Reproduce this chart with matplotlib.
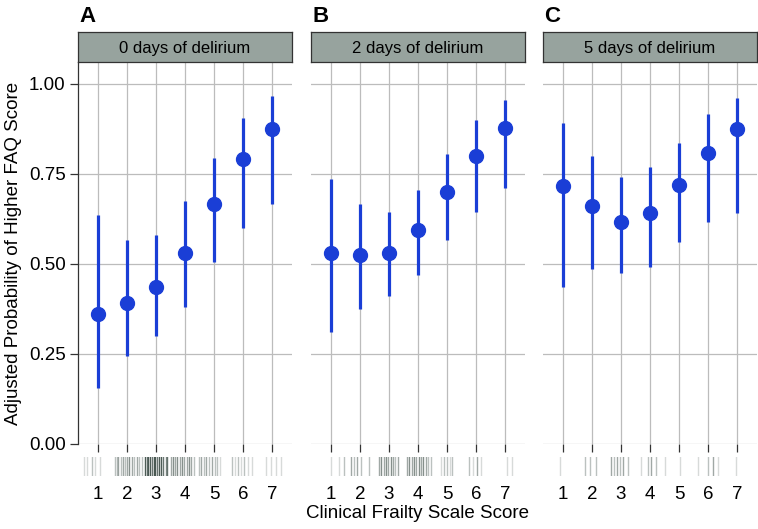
import matplotlib
matplotlib.use("Agg")
import matplotlib.pyplot as plt

plt.rcParams["font.family"] = ["Liberation Sans", "DejaVu Sans"]

scores = [1, 2, 3, 4, 5, 6, 7]
panel_letters = ["A", "B", "C"]
panel_titles = ["0 days of delirium", "2 days of delirium", "5 days of delirium"]

# point estimates and 95% intervals
est_a = [0.36, 0.39, 0.435, 0.53, 0.665, 0.79, 0.875]
lo_a = [0.155, 0.245, 0.30, 0.38, 0.505, 0.60, 0.665]
hi_a = [0.635, 0.565, 0.58, 0.675, 0.795, 0.905, 0.965]

est_b = [0.53, 0.525, 0.53, 0.595, 0.70, 0.80, 0.878]
lo_b = [0.31, 0.375, 0.41, 0.47, 0.565, 0.645, 0.71]
hi_b = [0.735, 0.665, 0.645, 0.705, 0.805, 0.90, 0.955]

est_c = [0.715, 0.66, 0.615, 0.64, 0.72, 0.808, 0.875]
lo_c = [0.435, 0.485, 0.475, 0.49, 0.56, 0.615, 0.64]
hi_c = [0.89, 0.80, 0.74, 0.77, 0.835, 0.915, 0.96]

# rug positions (jittered frailty scores) and how many observations overlap
rug_a_x = [0.52, 0.62, 0.79, 0.90, 1.07,
           1.58, 1.64, 1.70, 1.78, 1.85, 1.93, 2.00, 2.08, 2.16, 2.25, 2.33, 2.42, 2.52,
           2.62, 2.68, 2.74, 2.80, 2.86, 2.92, 2.98, 3.05, 3.12, 3.18, 3.25, 3.33, 3.38,
           3.52, 3.60, 3.67, 3.74, 3.82, 3.90, 3.98, 4.06, 4.14, 4.22, 4.32,
           4.48, 4.56, 4.64, 4.72, 4.82, 4.92, 5.02, 5.12, 5.22,
           5.62, 5.72, 5.82, 5.92, 6.05, 6.18, 6.30,
           6.80, 6.95, 7.15, 7.30]
rug_a_n = [1, 1, 2, 1, 1,
           2, 2, 3, 2, 3, 2, 3, 4, 3, 2, 3, 2, 2,
           6, 5, 7, 6, 5, 7, 6, 5, 6, 7, 5, 4, 5,
           3, 4, 3, 4, 3, 4, 3, 3, 4, 3, 2,
           2, 3, 2, 3, 2, 3, 2, 2, 1,
           2, 1, 2, 1, 2, 1, 1,
           1, 1, 1, 1]

rug_b_x = [1.00, 1.28, 1.45, 1.69, 1.79, 1.90, 2.03, 2.31,
           2.66, 2.74, 2.82, 2.90, 2.98, 3.06, 3.14, 3.22, 3.32,
           3.62, 3.70, 3.78, 3.86, 3.94, 4.02, 4.10, 4.18, 4.28, 4.36, 4.45,
           4.79, 4.90, 5.00, 5.10, 5.17,
           5.76, 5.90, 6.05, 6.17,
           7.07, 7.24]
rug_b_n = [1, 1, 2, 3, 2, 3, 2, 2,
           3, 4, 3, 4, 3, 4, 3, 2, 3,
           3, 4, 3, 4, 3, 4, 3, 4, 3, 2, 2,
           1, 2, 2, 1, 2,
           2, 1, 3, 1,
           1, 1]

rug_c_x = [0.90, 1.76, 1.93, 2.14,
           2.66, 2.76, 2.86, 2.96, 3.08, 3.24,
           3.69, 3.93, 4.03, 4.21, 4.52,
           5.03, 5.66, 6.00, 6.17, 6.34, 6.97]
rug_c_n = [1, 2, 2, 2,
           3, 2, 3, 2, 3, 2,
           1, 2, 3, 2, 1,
           1, 1, 2, 3, 1, 1]

panels = [
    (est_a, lo_a, hi_a, rug_a_x, rug_a_n),
    (est_b, lo_b, hi_b, rug_b_x, rug_b_n),
    (est_c, lo_c, hi_c, rug_c_x, rug_c_n),
]

W, H = 758, 529
fig = plt.figure(figsize=(W / 100, H / 100), dpi=100)

blue = "#1a3ed6"
grid_col = "#bcbcbc"
panel_left = [78, 311, 543]
panel_w = 214
top, bottom = 62, 444

for i, (est, lo, hi, rx, rn) in enumerate(panels):
    left = panel_left[i]
    ax = fig.add_axes([left / W, 1 - bottom / H, panel_w / W, (bottom - top) / H])
    ax.set_xlim(0.31, 7.69)
    ax.set_ylim(0, 1.06)
    ax.set_xticks(scores)
    ax.set_yticks([0, 0.25, 0.5, 0.75, 1.0])
    ax.grid(True, color=grid_col, linewidth=0.9)
    ax.set_axisbelow(True)
    for s in ["top", "right", "bottom"]:
        ax.spines[s].set_visible(False)
    if i == 0:
        ax.spines["left"].set_color("#333333")
        ax.spines["left"].set_linewidth(0.9)
        ax.set_yticklabels(["0.00", "0.25", "0.50", "0.75", "1.00"], fontsize=13.5)
        ax.tick_params(axis="y", length=6, width=0.9, color="#333333", pad=3)
        ax.set_ylabel("Adjusted Probability of Higher FAQ Score", fontsize=13.5, labelpad=5)
    else:
        ax.spines["left"].set_visible(False)
        ax.tick_params(axis="y", length=0, labelleft=False)
    ax.tick_params(axis="x", length=6, width=0.9, color="#333333", labelbottom=False)

    ax.vlines(scores, lo, hi, color=blue, linewidth=2.3, zorder=3)
    ax.plot(scores, est, "o", color=blue, markersize=10, zorder=4)

    # strip header
    sx = fig.add_axes([left / W, 1 - top / H, panel_w / W, 30 / H])
    sx.set_xticks([])
    sx.set_yticks([])
    sx.set_facecolor("#97a39e")
    for s in sx.spines.values():
        s.set_color("#333333")
        s.set_linewidth(0.9)
    sx.text(0.5, 0.45, panel_titles[i], ha="center", va="center", fontsize=12,
            transform=sx.transAxes)

    fig.text((left + 1) / W, 1 - 17 / H, panel_letters[i], fontsize=16,
             fontweight="bold", ha="left", va="center")

    # rug of observed scores
    rax = fig.add_axes([left / W, 1 - 476 / H, panel_w / W, 19 / H])
    rax.set_xlim(0.31, 7.69)
    rax.set_ylim(0, 1)
    for x, n in zip(rx, rn):
        rax.axvline(x, color="#3a4a44", alpha=min(0.9, 0.14 * n + 0.06), linewidth=1.0)
    for s in rax.spines.values():
        s.set_visible(False)
    rax.set_yticks([])
    rax.set_xticks(scores)
    rax.tick_params(axis="x", length=0, pad=7, labelsize=13.5)

fig.text((78 + 757) / 2 / W, 1 - 514 / H, "Clinical Frailty Scale Score",
         ha="center", va="center", fontsize=13.5)

fig.savefig("out.png", dpi=100)
